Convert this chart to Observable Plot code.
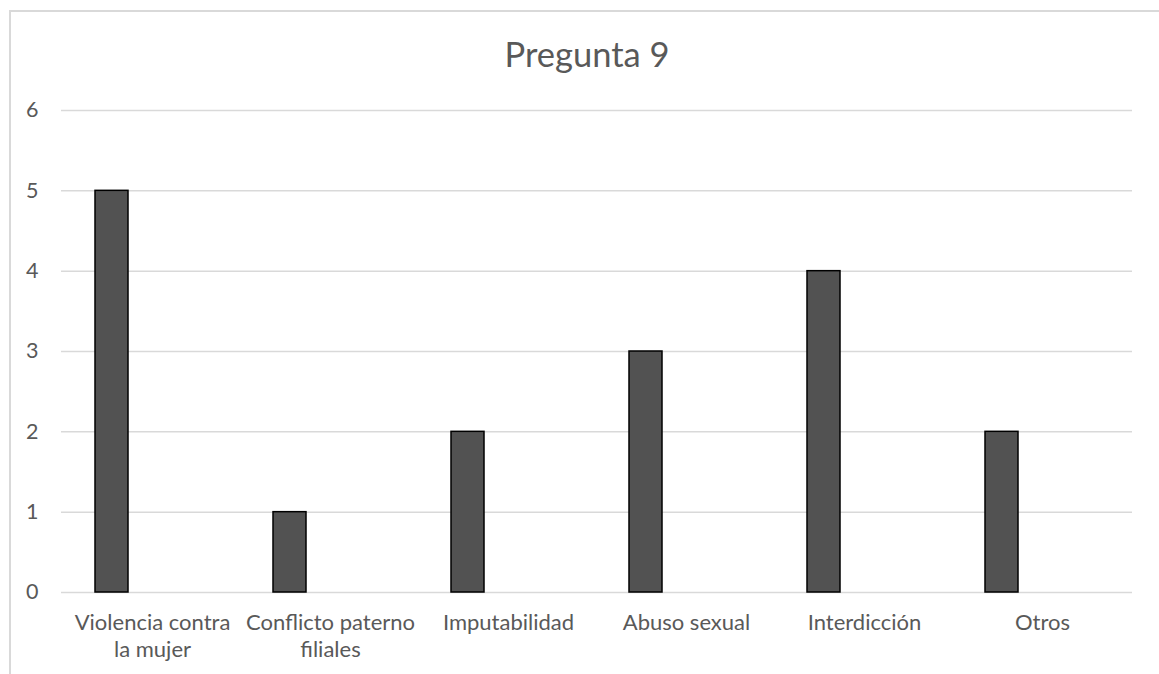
<!DOCTYPE html>
<html>
<head>
<meta charset="utf-8">
<script src="https://cdn.jsdelivr.net/npm/d3@7"></script>
<script src="https://cdn.jsdelivr.net/npm/@observablehq/plot@0.6"></script>
<style>
  html, body { margin: 0; padding: 0; background: #fff; overflow: hidden; }
  #wrap { position: relative; width: 1159px; height: 674px; }
  #frame { position: absolute; left: 9px; top: 10px; width: 1300px; height: 800px;
           border-top: 2px solid #d9d9d9; border-left: 2px solid #d9d9d9; box-sizing: border-box; }
  #chart { position: absolute; left: 0; top: 0; }
</style>
</head>
<body>
<div id="wrap"><div id="frame"></div><div id="chart"></div></div>
<script>
const title = "Pregunta 9";
const categories = ["Violencia contra la mujer", "Conflicto paterno filiales", "Imputabilidad", "Abuso sexual", "Interdicción", "Otros"];
const tickLabels = ["Violencia contra\nla mujer", "Conflicto paterno\nfiliales", "Imputabilidad", "Abuso sexual", "Interdicción", "Otros"];
const values = [5, 1, 2, 3, 4, 2];
const yTicks = [0, 1, 2, 3, 4, 5, 6];

const data = categories.map((c, i) => ({category: c, value: values[i]}));
const labelOf = new Map(categories.map((c, i) => [c, tickLabels[i]]));

const font = "Lato, 'Open Sans', sans-serif";
const chart = Plot.plot({
  width: 1159,
  height: 674,
  marginLeft: 61,
  marginRight: 27,
  marginTop: 110,
  marginBottom: 82,
  style: {fontFamily: font, color: "#595959", background: "transparent", overflow: "visible"},
  x: {domain: categories, padding: 0},
  y: {domain: [0, 6]},
  marks: [
    Plot.gridY(yTicks, {stroke: "#d9d9d9", strokeOpacity: 1, strokeWidth: 1.5}),
    Plot.barY(data, {x: "category", y: "value", fill: "#525252", stroke: "#000", strokeWidth: 1.5, insetLeft: 32, insetRight: 113}),
    Plot.axisY(yTicks, {tickSize: 0, tickPadding: 23, fontSize: 21.5, fill: "#595959", label: null, tickFormat: d => String(d)}),
    Plot.axisX({tickSize: 0, tickPadding: 18, fontSize: 22, fill: "#595959", label: null, lineHeight: 1.23,
                tickFormat: d => labelOf.get(d)}),
    Plot.text([title], {frameAnchor: "top", dy: -68, dx: -10, fontSize: 34.5, fill: "#595959", text: d => d})
  ]
});
document.getElementById("chart").appendChild(chart);
</script>
</body>
</html>
